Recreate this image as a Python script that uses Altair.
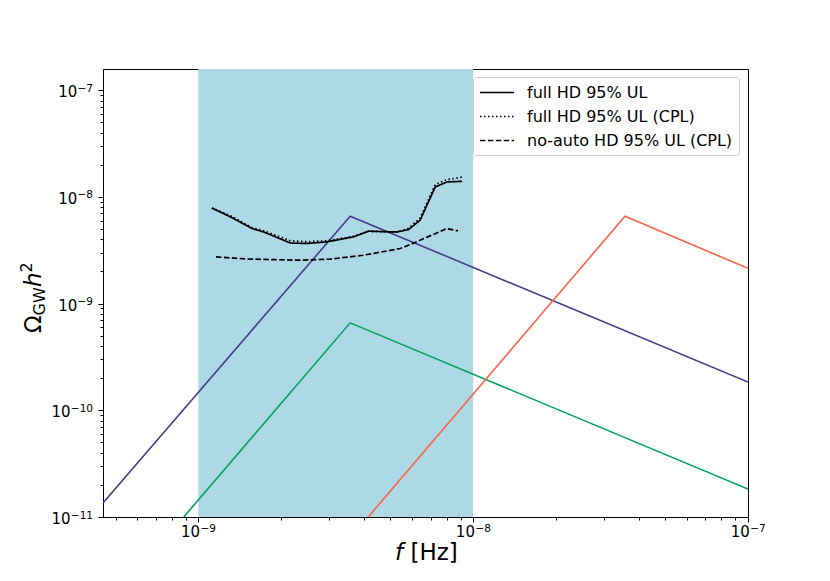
import altair as alt
import pandas as pd

FONT = "DejaVu Sans"

# ---------------- data ----------------
X_DOMAIN = [4.5e-10, 1e-7]
Y_DOMAIN = [1e-11, 1.58e-7]

band_lo = [1e-9]
band_hi = [1e-8]

purple_f = [4.5e-10, 3.57e-9, 1e-7]
purple_omega = [1.35e-11, 6.6e-9, 1.84e-10]
green_f = [8.85e-10, 3.57e-9, 1e-7]
green_omega = [1e-11, 6.6e-10, 1.83e-11]
orange_f = [4.15e-9, 3.57e-8, 1e-7]
orange_omega = [1e-11, 6.6e-9, 2.14e-9]

full_f = [1.12e-9, 1.31e-9, 1.57e-9, 1.73e-9, 2.16e-9, 2.48e-9, 2.94e-9, 3.67e-9,
          4.16e-9, 5.28e-9, 5.82e-9, 6.41e-9, 7.28e-9, 8.02e-9, 9.10e-9]
full_omega = [7.87e-9, 6.49e-9, 5.05e-9, 4.69e-9, 3.70e-9, 3.66e-9, 3.79e-9, 4.22e-9,
              4.77e-9, 4.69e-9, 4.94e-9, 6.04e-9, 1.24e-8, 1.38e-8, 1.40e-8]

cpl_f = [1.12e-9, 1.31e-9, 1.57e-9, 1.73e-9, 2.16e-9, 2.48e-9, 2.94e-9, 3.67e-9,
         4.16e-9, 5.28e-9, 5.82e-9, 6.41e-9, 7.28e-9, 8.02e-9, 9.10e-9]
cpl_omega = [7.87e-9, 6.65e-9, 5.14e-9, 4.82e-9, 3.88e-9, 3.80e-9, 3.88e-9, 4.28e-9,
             4.77e-9, 4.67e-9, 5.08e-9, 6.31e-9, 1.31e-8, 1.45e-8, 1.53e-8]

noauto_f = [1.16e-9, 1.50e-9, 2.29e-9, 3.02e-9, 3.98e-9, 5.43e-9, 6.05e-9, 8.02e-9, 8.81e-9]
noauto_omega = [2.74e-9, 2.62e-9, 2.55e-9, 2.61e-9, 2.84e-9, 3.28e-9, 3.68e-9, 5.05e-9, 4.80e-9]

series_names = ["full HD 95% UL", "full HD 95% UL (CPL)", "no-auto HD 95% UL (CPL)"]

# tick labels: base "10" with the exponent as superscript
x_major = [1e-9, 1e-8, 1e-7]
x_major_exps = ["−9", "−8", "−7"]
y_major = [1e-11, 1e-10, 1e-9, 1e-8, 1e-7]
y_major_exps = ["−11", "−10", "−9", "−8", "−7"]

x_minor = [float(f"{m}e{k}") for k in (-10, -9, -8) for m in range(2, 10)
           if X_DOMAIN[0] <= float(f"{m}e{k}") <= X_DOMAIN[1]]
y_minor = [float(f"{m}e{k}") for k in (-11, -10, -9, -8, -7) for m in range(2, 10)
           if Y_DOMAIN[0] <= float(f"{m}e{k}") <= Y_DOMAIN[1]]

# ---------------- chart ----------------
W, H = 645, 448
TICK_FS, EXP_FS = 15, 10.5

xs = alt.Scale(type="log", domain=X_DOMAIN, nice=False)
ys = alt.Scale(type="log", domain=Y_DOMAIN, nice=False)

major_x_axis = alt.Axis(values=x_major, labels=False, title=None, orient="bottom",
                        tickSize=5, grid=False)
major_y_axis = alt.Axis(values=y_major, labels=False, title=None, orient="left",
                        tickSize=5, grid=False)
minor_x_axis = alt.Axis(values=x_minor, labels=False, title=None, orient="bottom",
                        tickSize=3, grid=False, domain=False)
minor_y_axis = alt.Axis(values=y_minor, labels=False, title=None, orient="left",
                        tickSize=3, grid=False, domain=False)

band_df = pd.DataFrame({"lo": band_lo, "hi": band_hi})
band = alt.Chart(band_df).mark_rect(color="#add8e6", opacity=1).encode(
    x=alt.X("lo:Q", scale=xs, axis=None),
    x2="hi:Q",
    y=alt.value(0),
    y2=alt.value(H),
)


def pl_line(fs, oms, color):
    df = pd.DataFrame({"f": fs, "omega": oms})
    return alt.Chart(df).mark_line(color=color, strokeWidth=1.6, clip=True).encode(
        x=alt.X("f:Q", scale=xs, axis=None),
        y=alt.Y("omega:Q", scale=ys, axis=None),
    )


purple = pl_line(purple_f, purple_omega, "#483d8b")
green = pl_line(green_f, green_omega, "#00a65a")
orange = pl_line(orange_f, orange_omega, "#ff6347")

ul_df = pd.concat([
    pd.DataFrame({"f": full_f, "omega": full_omega, "series": series_names[0]}),
    pd.DataFrame({"f": cpl_f, "omega": cpl_omega, "series": series_names[1]}),
    pd.DataFrame({"f": noauto_f, "omega": noauto_omega, "series": series_names[2]}),
], ignore_index=True)

ul = alt.Chart(ul_df).mark_line(color="black", strokeWidth=1.7, clip=True).encode(
    x=alt.X("f:Q", scale=xs, axis=major_x_axis),
    y=alt.Y("omega:Q", scale=ys, axis=major_y_axis),
    strokeDash=alt.StrokeDash(
        "series:N",
        scale=alt.Scale(domain=series_names, range=[[1, 0], [1.5, 2.5], [5.5, 2.4]]),
        legend=alt.Legend(
            title=None, orient="none", legendX=370, legendY=8,
            symbolType="M-1,0H3", symbolSize=289, symbolStrokeWidth=1.6,
            symbolStrokeColor="black", symbolFillColor="transparent",
            labelFontSize=16, labelFont=FONT,
            labelOffset=29, rowPadding=6, padding=6, labelLimit=400,
            fillColor="white", strokeColor="#cccccc", cornerRadius=3,
        ),
    ),
)

minor = alt.Chart(pd.DataFrame({"f": purple_f, "omega": purple_omega})).mark_point(
    opacity=0).encode(
    x=alt.X("f:Q", scale=xs, axis=minor_x_axis),
    y=alt.Y("omega:Q", scale=ys, axis=minor_y_axis),
)

# ---- tick labels as "10" + superscript exponent ----
xl_df = pd.DataFrame({"v": x_major, "exp": x_major_exps})
yl_df = pd.DataFrame({"v": y_major, "exp": y_major_exps, "n": [len(e) for e in y_major_exps]})

X_BASE_Y = H + 20
xlab_base = alt.Chart(xl_df).mark_text(
    text="10", font=FONT, fontSize=TICK_FS, align="right", baseline="alphabetic",
    dx=1.8, color="black").encode(
    x=alt.X("v:Q", scale=xs, axis=None), y=alt.value(X_BASE_Y))
xlab_exp = alt.Chart(xl_df).mark_text(
    font=FONT, fontSize=EXP_FS, align="left", baseline="alphabetic",
    dx=2.2, color="black").encode(
    x=alt.X("v:Q", scale=xs, axis=None), y=alt.value(X_BASE_Y - 5.5),
    text="exp:N")

Y_RIGHT = -10
ylab_exp = alt.Chart(yl_df).mark_text(
    font=FONT, fontSize=EXP_FS, align="right", baseline="alphabetic",
    dy=1.5, color="black").encode(
    y=alt.Y("v:Q", scale=ys, axis=None), x=alt.value(Y_RIGHT), text="exp:N")


def ybase(n, w):
    return alt.Chart(yl_df).transform_filter(alt.datum.n == n).mark_text(
        text="10", font=FONT, fontSize=TICK_FS, align="right", baseline="alphabetic",
        dy=7, color="black").encode(
        y=alt.Y("v:Q", scale=ys, axis=None), x=alt.value(Y_RIGHT - w - 0.3))


ylab_base2 = ybase(2, (0.838 + 0.636) * EXP_FS)
ylab_base3 = ybase(3, (0.838 + 2 * 0.636) * EXP_FS)

one = pd.DataFrame({"a": [0]})


def txt(s, x, y, size, angle=0, style="normal", align="left"):
    return alt.Chart(one).mark_text(
        text=s, font=FONT, fontSize=size, fontStyle=style, angle=angle,
        align=align, baseline="alphabetic", color="black",
    ).encode(x=alt.value(x), y=alt.value(y))


# y-axis title  Omega_GW h^2 (rotated)
yt1 = txt("Ω", -62, 264, 23, angle=270)
yt2 = txt("GW", -58, 246.5, 16, angle=270)
yt3 = txt("h", -62, 218, 23, angle=270, style="italic")
yt4 = txt("2", -71, 203.5, 16, angle=270)
# x-axis title  f [Hz]
xt1 = txt("f", 292, 491, 23, style="italic")
xt2 = txt("[Hz]", 307.5, 491, 23)

chart = alt.layer(
    band, purple, green, orange, ul, minor,
    xlab_base, xlab_exp, ylab_exp, ylab_base2, ylab_base3,
    yt1, yt2, yt3, yt4, xt1, xt2
).resolve_axis(x="independent", y="independent").properties(
    width=W, height=H,
    autosize=alt.AutoSizeParams(type="none"),
    padding={"left": 95, "top": 61, "right": 74, "bottom": 56},
).configure_view(stroke="black", strokeWidth=1).configure_axis(
    domainColor="black", tickColor="black", labelColor="black", labelFont=FONT,
    domainWidth=1, tickWidth=1,
)

chart.save("out.html", embed_options={"renderer": "svg", "actions": False})
